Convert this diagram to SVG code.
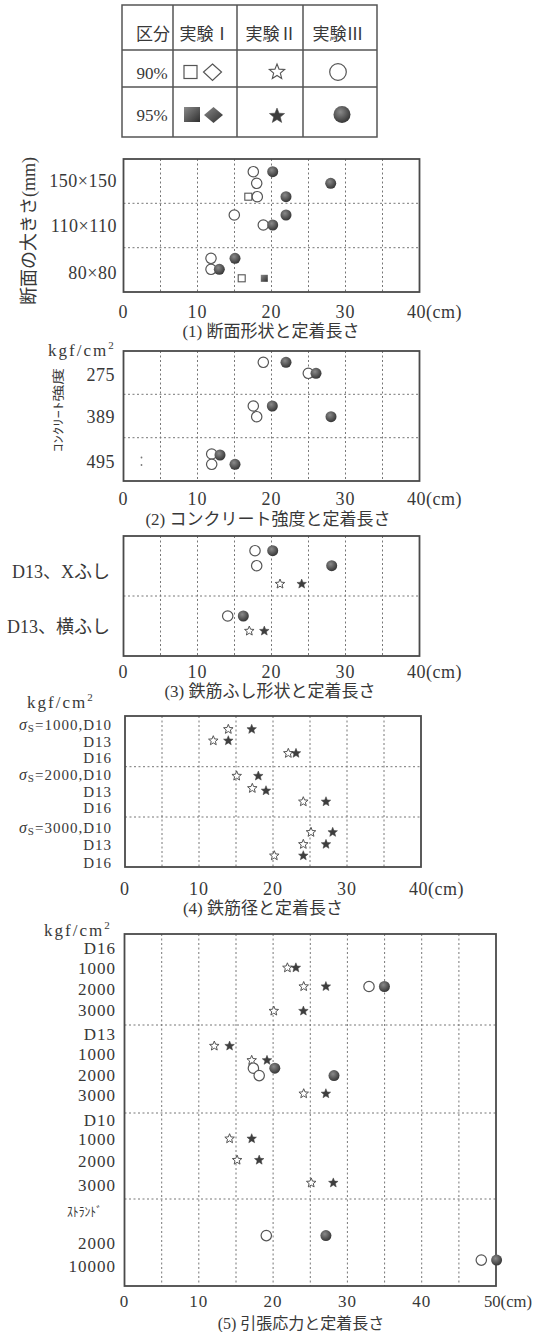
<svg xmlns="http://www.w3.org/2000/svg" width="534" height="1332" viewBox="0 0 534 1332">
<style>
text{font-family:"Liberation Serif","Noto Sans CJK JP",serif;fill:#383838}
.lab{font-size:18px;text-anchor:end;letter-spacing:0.5px}
.lab4{font-size:15px;text-anchor:end;letter-spacing:1px}
.lab5{font-size:17px;text-anchor:end;letter-spacing:1px}
.tk{font-size:18px;text-anchor:middle;letter-spacing:1px}
.tk5{font-size:17px;text-anchor:middle;letter-spacing:1px}
.tks{font-size:18px;text-anchor:start;letter-spacing:0.5px}
.cap{font-size:17px;text-anchor:middle}
.hd{font-size:17px;text-anchor:middle}
.unit{font-size:17px;letter-spacing:2px}
.fr{fill:none;stroke:#4a4a4a;stroke-width:1.8}
.gr{fill:none;stroke:#777;stroke-width:1;stroke-dasharray:2 2.5}
.tb{fill:none;stroke:#555;stroke-width:1.5}
.oc{fill:#fff;stroke:#555;stroke-width:1.2}
.fc{fill:url(#rg)}
.os{fill:#fff;stroke:#555;stroke-width:1}
.fs{fill:#3e3e3e;stroke:#3e3e3e;stroke-width:0.5}
</style>
<defs>
<radialGradient id="rg" cx="0.4" cy="0.35" r="0.7"><stop offset="0" stop-color="#8a8a8a"/><stop offset="1" stop-color="#303030"/></radialGradient>
<linearGradient id="lg" x1="0" y1="0" x2="1" y2="1"><stop offset="0" stop-color="#8a8a8a"/><stop offset="1" stop-color="#2e2e2e"/></linearGradient>
<path id="st" d="M0,-5 L1.29,-1.78 L4.76,-1.55 L2.09,0.68 L2.94,4.05 L0,2.2 L-2.94,4.05 L-2.09,0.68 L-4.76,-1.55 L-1.29,-1.78 Z"/>
</defs>

<g id="legend">
<rect class="tb" x="122" y="5" width="255" height="132"/>
<path class="tb" d="M173,5V137M237,5V137M303,5V137M122,50H377M122,87H377"/>
<text class="hd" x="153" y="40">区分</text>
<text class="hd" x="205" y="40">実験Ⅰ</text>
<text class="hd" x="271" y="40">実験Ⅱ</text>
<text class="hd" x="338" y="40">実験Ⅲ</text>
<text class="hd" x="152" y="79">90%</text>
<text class="hd" x="152" y="121">95%</text>
<rect x="184" y="65.5" width="13" height="13" fill="#fff" stroke="#555" stroke-width="1.2"/>
<path d="M212.5,64 L221.5,72 L212.5,80.5 L203.5,72 Z" fill="#fff" stroke="#555" stroke-width="1.2"/>
<use href="#st" class="os" transform="translate(277,72) scale(1.6)" style="stroke-width:0.7"/>
<circle cx="338" cy="72" r="8.3" class="oc"/>
<rect x="184" y="107" width="16" height="15" fill="url(#lg)"/>
<path d="M213.5,107 L223,115 L213.5,123 L204,115 Z" fill="url(#lg)"/>
<use href="#st" class="fs" transform="translate(277,116) scale(1.6)" style="stroke-width:0.3"/>
<circle cx="342" cy="114.5" r="8.5" class="fc"/>
</g>

<g id="chart1">
<path class="gr" d="M160.5,159V292M197.5,159V292M234.5,159V292M271.5,159V292M308.5,159V292M345.5,159V292M382.5,159V292M123.5,203.3H419.5M123.5,247.7H419.5"/>
<rect class="fr" x="123.5" y="159" width="296" height="133"/>
<text transform="translate(35,231) rotate(-90)" style="font-size:18px;text-anchor:middle">断面の大きさ(mm)</text>
<text class="lab" x="117" y="187">150×150</text>
<text class="lab" x="117" y="232">110×110</text>
<text class="lab" x="117" y="279">80×80</text>
<text class="tk" x="123.5" y="318">0</text>
<text class="tk" x="197.5" y="318">10</text>
<text class="tk" x="271.5" y="318">20</text>
<text class="tk" x="345.5" y="318">30</text>
<text class="tks" x="407" y="318">40(cm)</text>
<text class="cap" x="271" y="337">(1) 断面形状と定着長さ</text>
<g>
<circle class="oc" cx="253.3" cy="171.7" r="5.2"/>
<circle class="oc" cx="256.7" cy="183.3" r="5.2"/>
<circle class="oc" cx="257.3" cy="196.7" r="5.2"/>
<circle class="oc" cx="234.3" cy="215" r="5.2"/>
<circle class="oc" cx="263.3" cy="225" r="5.2"/>
<circle class="oc" cx="211" cy="258.3" r="5.2"/>
<circle class="oc" cx="211" cy="269.3" r="5.2"/>
<rect x="244.8" y="193.2" width="7" height="7" fill="#fff" stroke="#555" stroke-width="1.1"/>
<rect x="238.2" y="274.8" width="7" height="7" fill="#fff" stroke="#555" stroke-width="1.1"/>
<rect x="260.8" y="274.8" width="7" height="7" fill="url(#lg)"/>
<circle class="fc" cx="272.7" cy="171.7" r="5.5"/>
<circle class="fc" cx="330.7" cy="183.3" r="5.5"/>
<circle class="fc" cx="286" cy="196.7" r="5.5"/>
<circle class="fc" cx="286" cy="215" r="5.5"/>
<circle class="fc" cx="272.7" cy="225" r="5.5"/>
<circle class="fc" cx="235" cy="258.3" r="5.5"/>
<circle class="fc" cx="219.3" cy="269.3" r="5.5"/>
</g>
</g>

<g id="chart2">
<path class="gr" d="M160.5,351V481M197.5,351V481M234.5,351V481M271.5,351V481M308.5,351V481M345.5,351V481M382.5,351V481M123.5,394.3H419.5M123.5,437.7H419.5"/>
<rect class="fr" x="123.5" y="351" width="296" height="130"/>
<text class="unit" x="48" y="356">kgf/cm<tspan font-size="11" dy="-7">2</tspan></text>
<text transform="translate(62.5,410) rotate(-90)" style="font-size:12px;text-anchor:middle" textLength="84" lengthAdjust="spacingAndGlyphs">ｺﾝｸﾘｰﾄ強度</text>
<text class="lab" x="115" y="381">275</text>
<text class="lab" x="115" y="423">389</text>
<text class="lab" x="115" y="468">495</text>
<circle cx="141.5" cy="457.5" r="0.9" fill="#777"/>
<circle cx="141.5" cy="465" r="0.9" fill="#777"/>
<text class="tk" x="123.5" y="505">0</text>
<text class="tk" x="197.5" y="505">10</text>
<text class="tk" x="271.5" y="505">20</text>
<text class="tk" x="345.5" y="505">30</text>
<text class="tks" x="407" y="505">40(cm)</text>
<text class="cap" x="268" y="525">(2) コンクリート強度と定着長さ</text>
<g>
<circle class="oc" cx="263.3" cy="362.3" r="5.2"/>
<circle class="oc" cx="308.3" cy="373.3" r="5.2"/>
<circle class="oc" cx="253.3" cy="406" r="5.2"/>
<circle class="oc" cx="256.7" cy="416.7" r="5.2"/>
<circle class="oc" cx="211.7" cy="454" r="5.2"/>
<circle class="oc" cx="211.7" cy="464.3" r="5.2"/>
<circle class="fc" cx="286" cy="362.3" r="5.5"/>
<circle class="fc" cx="316" cy="373.3" r="5.5"/>
<circle class="fc" cx="272.3" cy="406" r="5.5"/>
<circle class="fc" cx="331" cy="416.7" r="5.5"/>
<circle class="fc" cx="220" cy="455" r="5.5"/>
<circle class="fc" cx="235" cy="464.3" r="5.5"/>
</g>
</g>

<g id="chart3">
<path class="gr" d="M160.5,536V656M197.5,536V656M234.5,536V656M271.5,536V656M308.5,536V656M345.5,536V656M382.5,536V656M123.5,596H419.5"/>
<rect class="fr" x="123.5" y="536" width="296" height="120"/>
<text class="lab" x="110" y="578" style="letter-spacing:0">D13、Xふし</text>
<text class="lab" x="110" y="633" style="letter-spacing:0">D13、横ふし</text>
<text class="tk" x="123.5" y="678">0</text>
<text class="tk" x="197.5" y="678">10</text>
<text class="tk" x="271.5" y="678">20</text>
<text class="tk" x="345.5" y="678">30</text>
<text class="tks" x="407" y="678">40(cm)</text>
<text class="cap" x="270" y="697">(3) 鉄筋ふし形状と定着長さ</text>
<g>
<circle class="oc" cx="255" cy="550.7" r="5.2"/>
<circle class="oc" cx="256.7" cy="565.7" r="5.2"/>
<circle class="oc" cx="227.7" cy="616" r="5.2"/>
<circle class="fc" cx="272.7" cy="550.7" r="5.5"/>
<circle class="fc" cx="331.7" cy="565.7" r="5.5"/>
<circle class="fc" cx="243.3" cy="616" r="5.5"/>
<use href="#st" class="os" x="280" y="584"/>
<use href="#st" class="os" x="249.3" y="631"/>
<use href="#st" class="fs" x="301.7" y="584"/>
<use href="#st" class="fs" x="264.3" y="631"/>
</g>
</g>

<g id="chart4">
<text class="unit" x="27" y="708">kgf/cm<tspan font-size="11" dy="-7">2</tspan></text>
<path class="gr" d="M162,716V867M199,716V867M236,716V867M273,716V867M310,716V867M347,716V867M384,716V867M125,766.7H421M125,817H421"/>
<rect class="fr" x="125" y="716" width="296" height="151"/>
<text class="lab4" x="112" y="730"><tspan font-style="italic" font-size="16">σ</tspan><tspan font-size="11" dy="2">S</tspan><tspan dy="-2">=1000,D10</tspan></text>
<text class="lab4" x="112" y="746.5">D13</text>
<text class="lab4" x="112" y="763">D16</text>
<text class="lab4" x="112" y="780"><tspan font-style="italic" font-size="16">σ</tspan><tspan font-size="11" dy="2">S</tspan><tspan dy="-2">=2000,D10</tspan></text>
<text class="lab4" x="112" y="796.5">D13</text>
<text class="lab4" x="112" y="813">D16</text>
<text class="lab4" x="112" y="832.5"><tspan font-style="italic" font-size="16">σ</tspan><tspan font-size="11" dy="2">S</tspan><tspan dy="-2">=3000,D10</tspan></text>
<text class="lab4" x="112" y="850">D13</text>
<text class="lab4" x="112" y="867.5">D16</text>
<text class="tk" x="125" y="895">0</text>
<text class="tk" x="199" y="895">10</text>
<text class="tk" x="273" y="895">20</text>
<text class="tk" x="347" y="895">30</text>
<text class="tks" x="409" y="895">40(cm)</text>
<text class="cap" x="263" y="914">(4) 鉄筋径と定着長さ</text>
<g>
<use href="#st" class="os" x="228.3" y="729.3"/>
<use href="#st" class="os" x="213.3" y="740.7"/>
<use href="#st" class="os" x="288.3" y="753.3"/>
<use href="#st" class="os" x="236.7" y="776"/>
<use href="#st" class="os" x="252.3" y="788.3"/>
<use href="#st" class="os" x="303.3" y="801.7"/>
<use href="#st" class="os" x="311" y="832.3"/>
<use href="#st" class="os" x="303.3" y="844.3"/>
<use href="#st" class="os" x="274.3" y="855.7"/>
<use href="#st" class="fs" x="251.7" y="729.3"/>
<use href="#st" class="fs" x="228.3" y="740.7"/>
<use href="#st" class="fs" x="296" y="753.3"/>
<use href="#st" class="fs" x="258.3" y="776"/>
<use href="#st" class="fs" x="266" y="790.7"/>
<use href="#st" class="fs" x="326" y="801.7"/>
<use href="#st" class="fs" x="332.7" y="832.3"/>
<use href="#st" class="fs" x="326" y="844.3"/>
<use href="#st" class="fs" x="303.3" y="855.7"/>
</g>
</g>

<g id="chart5">
<text class="unit" x="44" y="935.5">kgf/cm<tspan font-size="11" dy="-7">2</tspan></text>
<path class="gr" d="M161.7,934V1286M198.8,934V1286M236,934V1286M273.1,934V1286M310.3,934V1286M347.4,934V1286M384.6,934V1286M421.7,934V1286M458.9,934V1286M124.5,1025H496M124.5,1113H496M124.5,1199H496"/>
<rect class="fr" x="124.5" y="934" width="371.5" height="352"/>
<text class="lab5" x="116" y="954">D16</text>
<text class="lab5" x="116" y="974">1000</text>
<text class="lab5" x="116" y="995">2000</text>
<text class="lab5" x="116" y="1016">3000</text>
<text class="lab5" x="116" y="1040">D13</text>
<text class="lab5" x="116" y="1060">1000</text>
<text class="lab5" x="116" y="1081">2000</text>
<text class="lab5" x="116" y="1101">3000</text>
<text class="lab5" x="116" y="1126">D10</text>
<text class="lab5" x="116" y="1145">1000</text>
<text class="lab5" x="116" y="1166.5">2000</text>
<text class="lab5" x="116" y="1191">3000</text>
<text x="67" y="1216" style="font-size:13px" textLength="35" lengthAdjust="spacingAndGlyphs">ｽﾄﾗﾝﾄﾞ</text>
<text class="lab5" x="116" y="1249">2000</text>
<text class="lab5" x="116" y="1272">10000</text>
<text class="tk5" x="124.5" y="1307">0</text>
<text class="tk5" x="198.8" y="1307">10</text>
<text class="tk5" x="273.1" y="1307">20</text>
<text class="tk5" x="347.4" y="1307">30</text>
<text class="tk5" x="421.7" y="1307">40</text>
<text x="484" y="1307" style="font-size:17px" textLength="48" lengthAdjust="spacingAndGlyphs">50(cm)</text>
<text class="cap" x="301" y="1329" style="font-size:16px">(5) 引張応力と定着長さ</text>
<g>
<use href="#st" class="os" x="287.4" y="967.8"/>
<use href="#st" class="os" x="303.7" y="986.5"/>
<use href="#st" class="os" x="273.8" y="1011"/>
<use href="#st" class="os" x="214.3" y="1046"/>
<use href="#st" class="os" x="251.7" y="1060.3"/>
<use href="#st" class="os" x="303.7" y="1093.7"/>
<use href="#st" class="os" x="229.6" y="1138.7"/>
<use href="#st" class="os" x="237.1" y="1160.1"/>
<use href="#st" class="os" x="311.2" y="1182.9"/>
<use href="#st" class="fs" x="295.9" y="967.8"/>
<use href="#st" class="fs" x="325.9" y="986.5"/>
<use href="#st" class="fs" x="303.4" y="1011"/>
<use href="#st" class="fs" x="229.6" y="1046"/>
<use href="#st" class="fs" x="267" y="1060.3"/>
<use href="#st" class="fs" x="325.9" y="1093.7"/>
<use href="#st" class="fs" x="251.7" y="1138.7"/>
<use href="#st" class="fs" x="259.2" y="1160.1"/>
<use href="#st" class="fs" x="333.3" y="1182.9"/>
<circle class="oc" cx="369" cy="986.5" r="5.2"/>
<circle class="oc" cx="253.4" cy="1068.2" r="5.2"/>
<circle class="oc" cx="259.2" cy="1075.6" r="5.2"/>
<circle class="oc" cx="266.3" cy="1235.6" r="5.2"/>
<circle class="oc" cx="481.3" cy="1260.1" r="5.2"/>
<circle class="fc" cx="384.4" cy="986.5" r="5.5"/>
<circle class="fc" cx="274.8" cy="1068.2" r="5.5"/>
<circle class="fc" cx="334" cy="1075.6" r="5.5"/>
<circle class="fc" cx="325.9" cy="1235.6" r="5.5"/>
<circle class="fc" cx="496.6" cy="1260.1" r="5.5"/>
</g>
</g>
</svg>
